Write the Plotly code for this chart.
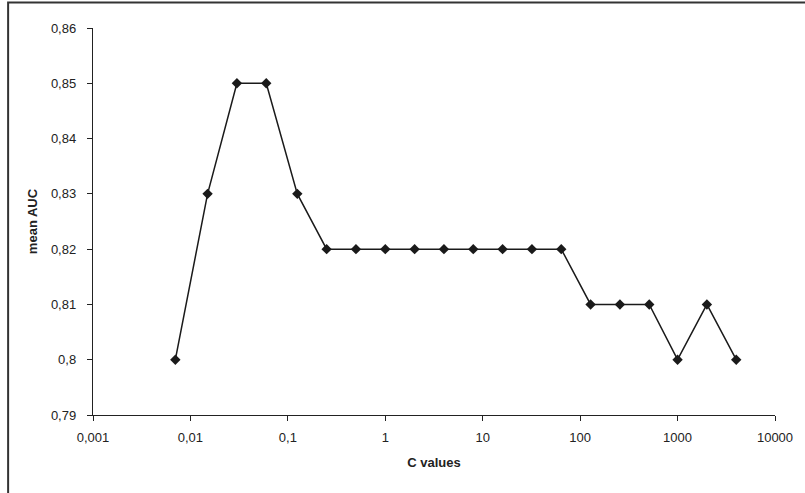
import plotly.graph_objects as go

c_values = [0.007, 0.015, 0.03, 0.06, 0.125, 0.25, 0.5, 1, 2, 4, 8, 16, 32, 64,
            128, 256, 512, 1000, 2000, 4000]
mean_auc = [0.80, 0.83, 0.85, 0.85, 0.83, 0.82, 0.82, 0.82, 0.82, 0.82, 0.82,
            0.82, 0.82, 0.82, 0.81, 0.81, 0.81, 0.80, 0.81, 0.80]

x_tickvals = [0.001, 0.01, 0.1, 1, 10, 100, 1000, 10000]
x_ticktext = ["0,001", "0,01", "0,1", "1", "10", "100", "1000", "10000"]
y_tickvals = [0.79, 0.80, 0.81, 0.82, 0.83, 0.84, 0.85, 0.86]
y_ticktext = ["0,79", "0,8", "0,81", "0,82", "0,83", "0,84", "0,85", "0,86"]

W, H = 805, 493
L, R, T, B = 93, 21, 28, 78
pw, ph = W - L - R, H - T - B

fig = go.Figure()
fig.add_trace(go.Scatter(
    x=c_values, y=mean_auc, mode="lines+markers",
    line=dict(color="#1a1a1a", width=1.5),
    marker=dict(symbol="diamond", size=8, color="#1a1a1a"),
    showlegend=False, hoverinfo="skip",
))

font = dict(family="Liberation Sans, Arial, sans-serif", size=13, color="#222")

fig.update_layout(
    width=W, height=H,
    margin=dict(l=L, r=R, t=T, b=B),
    paper_bgcolor="white", plot_bgcolor="white",
    font=font,
    xaxis=dict(
        type="log", range=[-3, 4],
        tickmode="array", tickvals=x_tickvals, ticktext=x_ticktext,
        ticks="outside", ticklen=5, tickcolor="#222", tickwidth=1,
        showline=True, linecolor="#222", linewidth=1.2,
        showgrid=False, zeroline=False,
        ticklabelstandoff=5,
        title=dict(text="<b>C values</b>", font=dict(size=13, color="#222"), standoff=14),
    ),
    yaxis=dict(
        range=[0.79, 0.86],
        tickmode="array", tickvals=y_tickvals, ticktext=y_ticktext,
        ticks="outside", ticklen=5, tickcolor="#222", tickwidth=1,
        showline=True, linecolor="#222", linewidth=1.2,
        showgrid=False, zeroline=False,
        ticklabelstandoff=8,
        title=dict(text="<b>mean AUC</b>", font=dict(size=13, color="#222"), standoff=10),
    ),
    shapes=[dict(
        type="rect", xref="paper", yref="paper",
        x0=(7 - L) / pw, x1=(W + 20 - L) / pw,
        y0=-(B + 20) / ph, y1=(H - B - 2.5) / ph,
        line=dict(color="#333", width=2), fillcolor="rgba(0,0,0,0)",
        layer="below",
    )],
)

fig.write_html(
    "out.html",
    config={"displayModeBar": False, "staticPlot": True},
    post_script="document.body.style.margin='0px';document.body.style.overflow='hidden';",
)
